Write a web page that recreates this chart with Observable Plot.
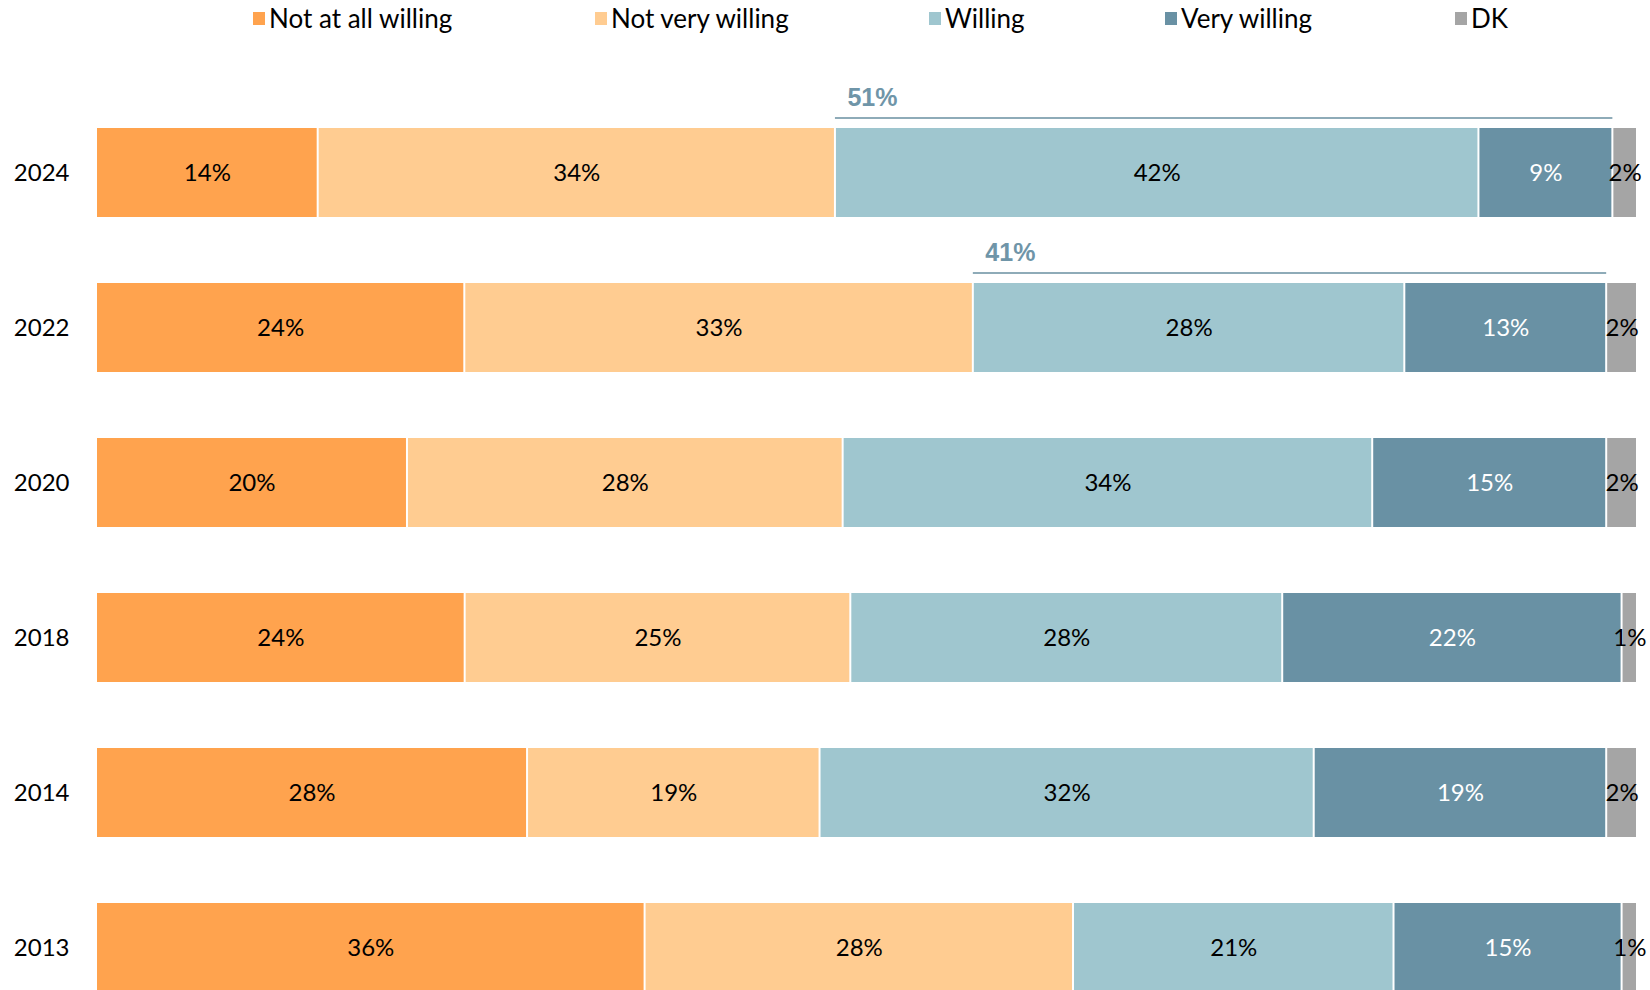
<!DOCTYPE html>
<html>
<head>
<meta charset="utf-8">
<script src="https://cdn.jsdelivr.net/npm/d3@7"></script>
<script src="https://cdn.jsdelivr.net/npm/@observablehq/plot@0.6"></script>
<style>
  html, body { margin: 0; padding: 0; background: #fff; overflow: hidden; }
  #wrap { position: relative; width: 1650px; height: 990px; }
  #legend { position: relative; width: 1650px; height: 40px; font-family: Lato, sans-serif; font-size: 26px; color: #000; }
  .item { position: absolute; top: 0; height: 36px; display: flex; align-items: center; white-space: nowrap; }
  .sw { width: 12px; height: 13px; margin-right: 4px; }
  #chart svg { display: block; }
</style>
</head>
<body>
<div id="wrap">
  <div id="legend"></div>
  <div id="chart"></div>
</div>
<script>
const years = ["2024", "2022", "2020", "2018", "2014", "2013"];
const categories = ["Not at all willing", "Not very willing", "Willing", "Very willing", "DK"];
const colors = ["#FFA34E", "#FFCC91", "#9FC6CF", "#6991A4", "#A5A5A5"];

const notAtAll    = [14.4, 23.9, 20.2, 23.9, 28.0, 35.6];
const notVery     = [33.6, 33.0, 28.3, 25.0, 19.0, 27.8];
const willing     = [41.8, 28.0, 34.4, 28.0, 32.1, 20.8];
const veryWilling = [ 8.7, 13.1, 15.2, 22.0, 19.0, 14.8];
const dk          = [ 1.6,  2.0,  2.0,  1.0,  2.0,  1.0];

const netYears = ["2024", "2022"];
const netWilling = [51, 41];

const legendX = [253, 595, 929, 1165, 1455];

// legend
const legend = document.getElementById("legend");
categories.forEach((c, i) => {
  const it = document.createElement("div");
  it.className = "item";
  it.style.left = legendX[i] + "px";
  const sw = document.createElement("span");
  sw.className = "sw";
  sw.style.background = colors[i];
  const tx = document.createElement("span");
  tx.textContent = c;
  it.appendChild(sw);
  it.appendChild(tx);
  legend.appendChild(it);
});

// build stacked segments (normalized to 100%)
const series = [notAtAll, notVery, willing, veryWilling, dk];
const segs = [];
const rowStart = {};
years.forEach((y, i) => {
  const vals = series.map(s => s[i]);
  const total = d3.sum(vals);
  let acc = 0;
  rowStart[y] = {};
  vals.forEach((v, k) => {
    const x1 = acc / total * 100;
    acc += v;
    const x2 = acc / total * 100;
    rowStart[y][categories[k]] = {x1, x2};
    segs.push({year: y, cat: categories[k], x1, x2, mid: (x1 + x2) / 2, label: Math.round(v) + "%"});
  });
});

const net = netYears.map((y, i) => ({
  year: y,
  x1: rowStart[y]["Willing"].x1,
  x2: rowStart[y]["Very willing"].x2,
  label: netWilling[i] + "%"
}));

const chart = Plot.plot({
  width: 1650,
  height: 968,
  marginTop: 72,
  marginBottom: 0,
  marginLeft: 96,
  marginRight: 13,
  style: {fontFamily: "Lato, sans-serif", fontSize: "24px", color: "#000", background: "#fff"},
  x: {domain: [0, 100], axis: null},
  y: {domain: years, paddingInner: 0.423, paddingOuter: 0.1, label: null, tickSize: 0, tickPadding: 27},
  color: {domain: categories, range: colors},
  marks: [
    Plot.barX(segs, {x1: "x1", x2: "x2", y: "year", fill: "cat", insetLeft: 1, insetRight: 1}),
    Plot.text(segs, {filter: d => d.cat !== "Very willing", x: "mid", y: "year", text: "label", fill: "#000"}),
    Plot.text(segs, {filter: d => d.cat === "Very willing", x: "mid", y: "year", text: "label", fill: "#fff"}),
    Plot.ruleY(net, {y: "year", x1: "x1", x2: "x2", dy: -55, stroke: "#8eabb8", strokeWidth: 2}),
    Plot.text(net, {y: "year", x: "x1", dx: 12, dy: -75, text: "label", textAnchor: "start",
      fill: "#6f95a8", fontWeight: "bold", fontSize: 25, fontFamily: "'Liberation Sans', Arial, sans-serif"})
  ]
});
document.getElementById("chart").appendChild(chart);
</script>
</body>
</html>
